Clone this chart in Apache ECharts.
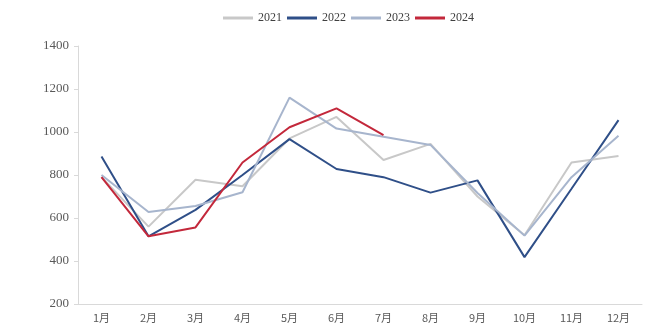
<!DOCTYPE html>
<html>
<head>
<meta charset="utf-8">
<script src="https://cdn.jsdelivr.net/npm/echarts@6/dist/echarts.min.js"></script>
<style>
  html, body { margin: 0; padding: 0; background: #fff; }
  #chart { width: 645px; height: 327px; }
</style>
</head>
<body>
<div id="chart"></div>
<script>
const months = ['1月', '2月', '3月', '4月', '5月', '6月', '7月', '8月', '9月', '10月', '11月', '12月']
const v2021 = [790, 560, 778, 748, 970, 1070, 870, 945, 700, 520, 858, 888]
const v2022 = [886, 515, 638, 800, 967, 828, 790, 718, 775, 418, 736, 1055]
const v2023 = [800, 628, 656, 720, 1160, 1016, 978, 940, 716, 518, 790, 982]
const v2024 = [790, 515, 556, 858, 1022, 1110, 985]

const chart = echarts.init(document.getElementById('chart'))

function line(name, data, color) {
  return {
    name: name,
    type: 'line',
    data: data,
    symbol: 'none',
    lineStyle: { color: color, width: 2 },
    itemStyle: { color: color }
  }
}

chart.setOption({
  backgroundColor: '#fff',
  animation: false,
  legend: {
    top: 7,
    left: 218,
    itemWidth: 30,
    itemHeight: 3,
    itemGap: 5,
    icon: 'rect',
    textStyle: { color: '#404040', fontFamily: 'Liberation Serif', fontSize: 12 },
    data: ['2021', '2022', '2023', '2024']
  },
  grid: { left: 78, right: 3, top: 46, bottom: 23 },
  xAxis: {
    type: 'category',
    data: months,
    boundaryGap: true,
    axisLine: { lineStyle: { color: '#d9d9d9' } },
    axisTick: { show: false },
    axisLabel: { color: '#595959', fontSize: 11, fontFamily: 'Noto Sans CJK SC', margin: 8 }
  },
  yAxis: {
    type: 'value',
    min: 200,
    max: 1400,
    interval: 200,
    axisLine: { show: true, lineStyle: { color: '#d9d9d9' } },
    axisTick: { show: true, length: 4, lineStyle: { color: '#d9d9d9' } },
    splitLine: { show: false },
    axisLabel: {
      color: '#595959',
      fontSize: 13,
      fontFamily: 'Liberation Serif',
      margin: 9,
      formatter: v => String(v)
    }
  },
  series: [
    line('2021', v2021, '#c8c8c8'),
    line('2022', v2022, '#2f4f88'),
    line('2023', v2023, '#a7b5cd'),
    line('2024', v2024, '#c3283b')
  ]
})
</script>
</body>
</html>
